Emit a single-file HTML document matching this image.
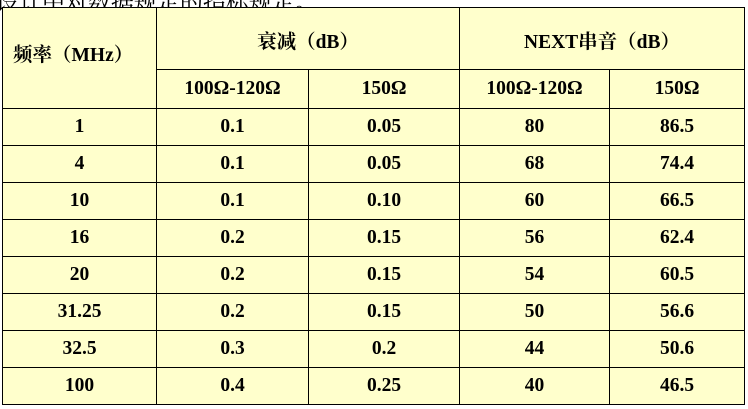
<!DOCTYPE html>
<html><head><meta charset="utf-8"><style>
body{margin:0;width:748px;height:409px;overflow:hidden;background:#fff;position:relative;font-family:"Liberation Serif","Noto Serif CJK SC",serif;}
#cap{position:absolute;left:-4px;top:-16px;font-size:23px;white-space:nowrap;color:#000;}
table{position:absolute;left:2px;top:7px;border-collapse:collapse;background:#ffffcc;}
td{border:1.5px solid #000;padding:0;text-align:center;font-weight:bold;font-size:19.5px;color:#000;}
</style></head><body>
<div id="cap">设计中对数据规定的指标规定。</div>
<table>
<colgroup><col style="width:154px"><col style="width:152px"><col style="width:151px"><col style="width:150px"><col style="width:135px"></colgroup>
<tr style="height:62px"><td rowspan="2" style="text-align:left;padding-left:10px;vertical-align:middle"><div style="position:relative;top:-5px">频率（MHz）</div></td><td colspan="2"><div style="position:relative;top:1px">衰减（dB）</div></td><td colspan="2"><div style="position:relative;top:1px">NEXT串音（dB）</div></td></tr>
<tr style="height:39px"><td>100Ω-120Ω</td><td>150Ω</td><td>100Ω-120Ω</td><td>150Ω</td></tr>
<tr style="height:37px"><td>1</td><td>0.1</td><td>0.05</td><td>80</td><td>86.5</td></tr>
<tr style="height:37px"><td>4</td><td>0.1</td><td>0.05</td><td>68</td><td>74.4</td></tr>
<tr style="height:37px"><td>10</td><td>0.1</td><td>0.10</td><td>60</td><td>66.5</td></tr>
<tr style="height:37px"><td>16</td><td>0.2</td><td>0.15</td><td>56</td><td>62.4</td></tr>
<tr style="height:37px"><td>20</td><td>0.2</td><td>0.15</td><td>54</td><td>60.5</td></tr>
<tr style="height:37px"><td>31.25</td><td>0.2</td><td>0.15</td><td>50</td><td>56.6</td></tr>
<tr style="height:37px"><td>32.5</td><td>0.3</td><td>0.2</td><td>44</td><td>50.6</td></tr>
<tr style="height:37px"><td>100</td><td>0.4</td><td>0.25</td><td>40</td><td>46.5</td></tr>
</table>
</body></html>
